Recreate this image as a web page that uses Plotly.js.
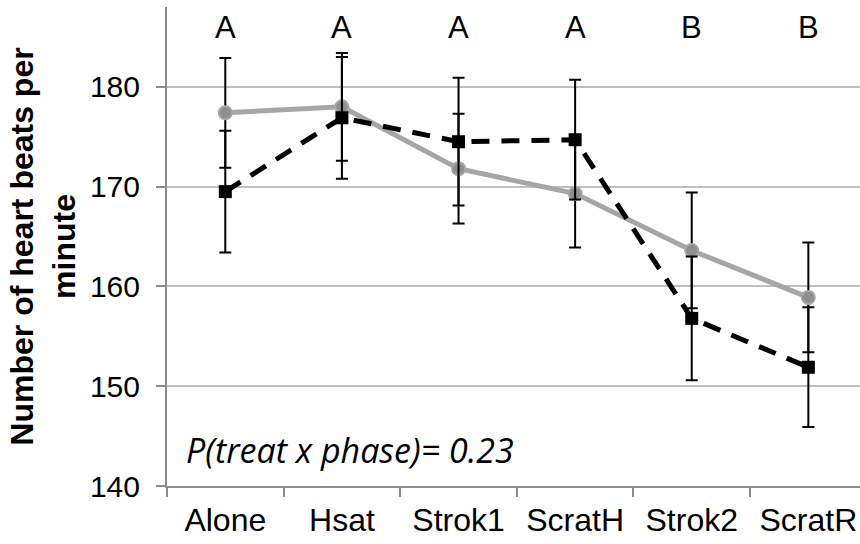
<!DOCTYPE html>
<html>
<head>
<meta charset="utf-8">
<script src="https://cdn.plot.ly/plotly-3.0.1.min.js"></script>
<style>html,body{margin:0;padding:0;background:#fff;}#chart{width:860px;height:544px;}</style>
</head>
<body>
<div id="chart"></div>
<script>
const categories = ['Alone', 'Hsat', 'Strok1', 'ScratH', 'Strok2', 'ScratR'];
const graySeries = [177.4, 178.0, 171.8, 169.3, 163.6, 158.9];
const grayErr = [5.5, 5.4, 5.5, 5.4, 5.8, 5.5];
const blackSeries = [169.5, 176.9, 174.5, 174.7, 156.8, 151.9];
const blackErr = [6.1, 6.1, 6.4, 6.0, 6.2, 6.0];
const groupLetters = ['A', 'A', 'A', 'A', 'B', 'B'];
const letterY = 185.9;
const yTicks = [140, 150, 160, 170, 180];
const pText = 'P(treat x phase)= 0.23';

const traces = [
  {
    x: categories, y: graySeries, type: 'scatter', mode: 'lines+markers',
    line: {color: '#a6a6a6', width: 5},
    marker: {symbol: 'circle', size: 13, color: '#8e8e8e', line: {color: '#a6a6a6', width: 2}},
    error_y: {type: 'data', array: grayErr, visible: true, color: '#000', thickness: 2, width: 6},
    showlegend: false
  },
  {
    x: categories, y: blackSeries, type: 'scatter', mode: 'lines+markers',
    line: {color: '#000', width: 5, dash: '18px,12px'},
    marker: {symbol: 'square', size: 13, color: '#000'},
    error_y: {type: 'data', array: blackErr, visible: true, color: '#000', thickness: 2, width: 6},
    showlegend: false
  }
];

const annotations = groupLetters.map((t, i) => ({
  x: categories[i], y: letterY, xref: 'x', yref: 'y', text: t, showarrow: false,
  font: {family: 'Liberation Sans, Arial, sans-serif', size: 31, color: '#000'},
  xanchor: 'center', yanchor: 'middle'
}));
annotations.push({
  x: -0.35, y: 143.6, xref: 'x', yref: 'y', text: '<i>' + pText + '</i>', showarrow: false,
  font: {family: 'Open Sans, sans-serif', size: 34, color: '#000'},
  xanchor: 'left', yanchor: 'middle'
});

const layout = {
  width: 860, height: 544,
  margin: {l: 167, r: 0, t: 7, b: 58},
  paper_bgcolor: '#fff', plot_bgcolor: '#fff',
  font: {family: 'Liberation Sans, Arial, sans-serif', color: '#000'},
  xaxis: {
    type: 'category', range: [-0.5, 5.443],
    showgrid: false, showline: true, linecolor: '#8c8c8c', linewidth: 2,
    ticks: 'outside', tickson: 'boundaries', ticklen: 9, tickwidth: 2, tickcolor: '#8c8c8c',
    tickfont: {size: 32, color: '#000'}, ticklabelstandoff: 5,
    zeroline: false
  },
  yaxis: {
    range: [140, 188], tickvals: yTicks,
    showgrid: true, gridcolor: '#bfbfbf', gridwidth: 2,
    showline: true, linecolor: '#8c8c8c', linewidth: 2,
    ticks: 'outside', ticklen: 9, tickwidth: 2, tickcolor: '#8c8c8c',
    tickfont: {size: 30, color: '#000'}, ticklabelstandoff: 10,
    zeroline: false,
    title: {text: '<b>Number of heart beats per<br>minute</b>', font: {size: 32, color: '#000'}, standoff: 5}
  },
  annotations: annotations
};

Plotly.newPlot('chart', traces, layout, {displayModeBar: false, staticPlot: true});
</script>
</body>
</html>
